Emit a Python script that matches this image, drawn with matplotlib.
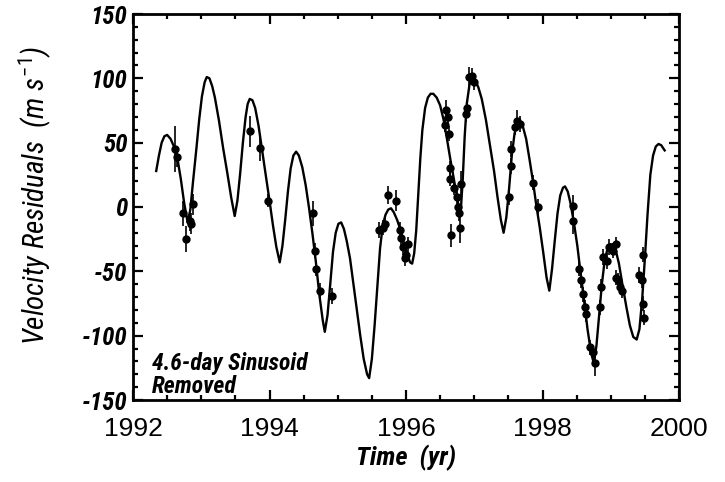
import numpy as np
import matplotlib
matplotlib.use("Agg")
import matplotlib.pyplot as plt
from matplotlib import font_manager as fm
from matplotlib.ticker import MultipleLocator, FixedLocator

# ---------------- data ----------------
curve_t = [1992.34, 1992.38, 1992.42, 1992.46, 1992.50, 1992.55, 1992.60, 1992.65,
           1992.70, 1992.75, 1992.80, 1992.84, 1992.88, 1992.93, 1992.97, 1993.01,
           1993.05, 1993.08, 1993.12, 1993.16, 1993.20, 1993.26, 1993.32, 1993.38,
           1993.44, 1993.49, 1993.53, 1993.57, 1993.61, 1993.65, 1993.68, 1993.71,
           1993.75, 1993.79, 1993.84, 1993.90, 1993.95, 1994.00, 1994.05, 1994.10,
           1994.15, 1994.19, 1994.23, 1994.27, 1994.31, 1994.35, 1994.39, 1994.43,
           1994.48, 1994.53, 1994.58, 1994.63, 1994.68, 1994.73, 1994.78, 1994.81,
           1994.85, 1994.89, 1994.93, 1994.97, 1995.01, 1995.05, 1995.09, 1995.13,
           1995.18, 1995.23, 1995.28, 1995.33, 1995.38, 1995.43, 1995.46, 1995.50,
           1995.54, 1995.58, 1995.62, 1995.66, 1995.70, 1995.74, 1995.78, 1995.82,
           1995.87, 1995.92, 1995.97, 1996.02, 1996.06, 1996.09, 1996.12, 1996.15,
           1996.18, 1996.21, 1996.24, 1996.28, 1996.32, 1996.36, 1996.40, 1996.45,
           1996.50, 1996.55, 1996.60, 1996.65, 1996.70, 1996.74, 1996.78, 1996.80,
           1996.83, 1996.86, 1996.89, 1996.93, 1996.97, 1997.01, 1997.06, 1997.11,
           1997.17, 1997.23, 1997.29, 1997.34, 1997.39, 1997.43, 1997.47, 1997.51,
           1997.55, 1997.59, 1997.63, 1997.67, 1997.71, 1997.76, 1997.81, 1997.86,
           1997.91, 1997.96, 1998.01, 1998.06, 1998.10, 1998.14, 1998.18, 1998.22,
           1998.26, 1998.30, 1998.33, 1998.37, 1998.41, 1998.46, 1998.51, 1998.56,
           1998.61, 1998.66, 1998.71, 1998.75, 1998.79, 1998.83, 1998.87, 1998.91,
           1998.95, 1998.99, 1999.03, 1999.07, 1999.12, 1999.17, 1999.23, 1999.28,
           1999.33, 1999.38, 1999.42, 1999.46, 1999.50, 1999.54, 1999.58, 1999.62,
           1999.66, 1999.70, 1999.74, 1999.79]
curve_v = [28, 40, 50, 55, 56, 53, 47, 38,
           22, 3, -12, -2, 20, 46, 68, 86,
           97, 101, 100, 94, 85, 67, 46, 27,
           7, -7, 5, 26, 50, 70, 80, 84,
           83, 77, 63, 41, 23, 5, -14, -31,
           -43, -30, -10, 12, 30, 40, 43, 40,
           31, 17, -1, -21, -43, -68, -88, -97,
           -84, -60, -35, -20, -13, -12, -17, -26,
           -40, -60, -80, -100, -118, -130, -133, -118,
           -92, -62, -32, -14, -6, -2, -1, -4,
           -10, -18, -28, -37, -43, -44, -36, -18,
           10, 38, 60, 77, 85, 88, 88, 85,
           79, 68, 53, 37, 22, 10, -2, -5,
           20, 55, 80, 95, 100, 99, 93, 84,
           68, 48, 28, 8, -10, -20, -8, 14,
           40, 57, 65, 66, 63, 53, 37, 20,
           1, -16, -35, -55, -65, -48, -26, -5,
           9, 15, 16, 12, 3, -12, -30, -52,
           -73, -95, -113, -121, -108, -84, -60, -42,
           -33, -29, -29, -33, -44, -60, -78, -92,
           -101, -103, -95, -72, -40, -5, 25, 40,
           47, 49, 48, 44]

obs_t = [1992.61, 1992.65, 1992.73, 1992.78, 1992.83, 1992.85, 1992.88,
         1993.72, 1993.86, 1993.98,
         1994.64, 1994.66, 1994.68, 1994.74, 1994.91,
         1995.61, 1995.66, 1995.69, 1995.74, 1995.86, 1995.91, 1995.93, 1995.96,
         1995.98, 1996.00, 1996.03,
         1996.57, 1996.59, 1996.62, 1996.63, 1996.64, 1996.65, 1996.66, 1996.71,
         1996.74, 1996.76, 1996.78, 1996.79, 1996.80, 1996.88, 1996.89, 1996.93,
         1996.97, 1996.99,
         1997.51, 1997.54, 1997.54, 1997.59, 1997.63, 1997.67, 1997.86, 1997.93,
         1998.44, 1998.45, 1998.54, 1998.57, 1998.59, 1998.62, 1998.64, 1998.69,
         1998.74, 1998.77, 1998.84, 1998.86, 1998.89, 1998.94, 1998.98, 1999.03,
         1999.08, 1999.08, 1999.11, 1999.13, 1999.16,
         1999.42, 1999.46, 1999.47, 1999.47, 1999.48]
obs_v = [45, 39, -5, -25, -11, -13, 2,
         59, 46, 5,
         -5, -34, -48, -65, -69,
         -18, -16, -13, 9, 5, -18, -24, -31,
         -40, -37, -29,
         64, 75, 70, 57, 30, 22, -22, 15,
         8, 0, -5, -16, 18, 72, 77, 101,
         102, 97,
         7.5, 32, 45, 62, 67, 64.5, 19, 0,
         -11, 1, -48, -57, -68, -78, -83, -109,
         -113, -121, -78, -62, -39, -42, -31, -34,
         -29, -55, -57, -62, -65,
         -53, -57, -75, -37, -86]
obs_err = [18, 8, 10, 10, 8, 8, 8,
           12, 10, 5,
           10, 6, 6, 6, 6,
           6, 6, 6, 7, 8, 6, 6, 6,
           6, 6, 6,
           6, 8, 6, 6, 6, 6, 9, 6,
           6, 6, 6, 12, 10, 6, 6, 8,
           6, 6,
           6, 6, 6, 6, 8, 6, 6, 6,
           10, 8, 6, 6, 6, 6, 6, 6,
           6, 10, 6, 6, 6, 6, 6, 6,
           6, 6, 6, 6, 6,
           6, 6, 6, 6, 6]

x_ticks = [1992, 1994, 1996, 1998, 2000]
y_ticks = [-150, -100, -50, 0, 50, 100, 150]

# ---------------- fonts ----------------
def pick(fams):
    for f in fams:
        try:
            fm.findfont(fm.FontProperties(family=f), fallback_to_default=False)
            return f
        except Exception:
            pass
    return "DejaVu Sans"

narrow = pick(["Liberation Sans Narrow", "Roboto Condensed", "Open Sans Condensed",
               "DejaVu Sans Condensed", "Roboto"])
plain = pick(["Liberation Sans", "Arial", "DejaVu Sans"])

plt.rcParams['mathtext.fontset'] = 'custom'
plt.rcParams['mathtext.rm'] = narrow
plt.rcParams['mathtext.it'] = narrow + ':italic'

fig = plt.figure(figsize=(7.25, 4.82), dpi=100)
ax = fig.add_axes([133/725, 1 - 400/482, (679-133)/725, (400-14)/482])

ax.plot(curve_t, curve_v, color='black', lw=1.7, zorder=3)
ax.errorbar(obs_t, obs_v, yerr=obs_err, fmt='o', color='black', ms=5,
            elinewidth=1.2, capsize=0, zorder=4)

ax.set_xlim(1992, 2000)
ax.set_ylim(-150, 150)
ax.xaxis.set_major_locator(FixedLocator(x_ticks))
ax.xaxis.set_minor_locator(MultipleLocator(0.5))
ax.yaxis.set_major_locator(FixedLocator(y_ticks))
ax.yaxis.set_minor_locator(MultipleLocator(10))
ax.tick_params(which='both', direction='in', top=True, right=True, width=1.6)
ax.tick_params(which='major', length=7)
ax.tick_params(which='minor', length=3.5)
for s in ax.spines.values():
    s.set_linewidth(2.0)

ax.set_xticklabels([str(v) for v in x_ticks], family=plain, fontsize=19)
ax.set_yticklabels([str(v) for v in y_ticks], family=narrow, fontsize=18,
                   weight='bold', style='italic')
ax.tick_params(axis='x', pad=12)
ax.tick_params(axis='y', pad=4)

ax.set_xlabel('Time  (yr)', family=narrow, fontsize=19, weight='bold',
              style='italic', labelpad=3)
ax.set_ylabel(r'Velocity Residuals  ($m\ s^{-1}$)', family=narrow, fontsize=21,
              style='italic')
ax.yaxis.set_label_coords(-0.145, 0.53)

ax.text(0.035, 0.005, '4.6-day Sinusoid\nRemoved', transform=ax.transAxes,
        family=narrow, fontsize=17, weight='bold', style='italic',
        ha='left', va='bottom', linespacing=1.0)

fig.savefig('out.png', dpi=100)
